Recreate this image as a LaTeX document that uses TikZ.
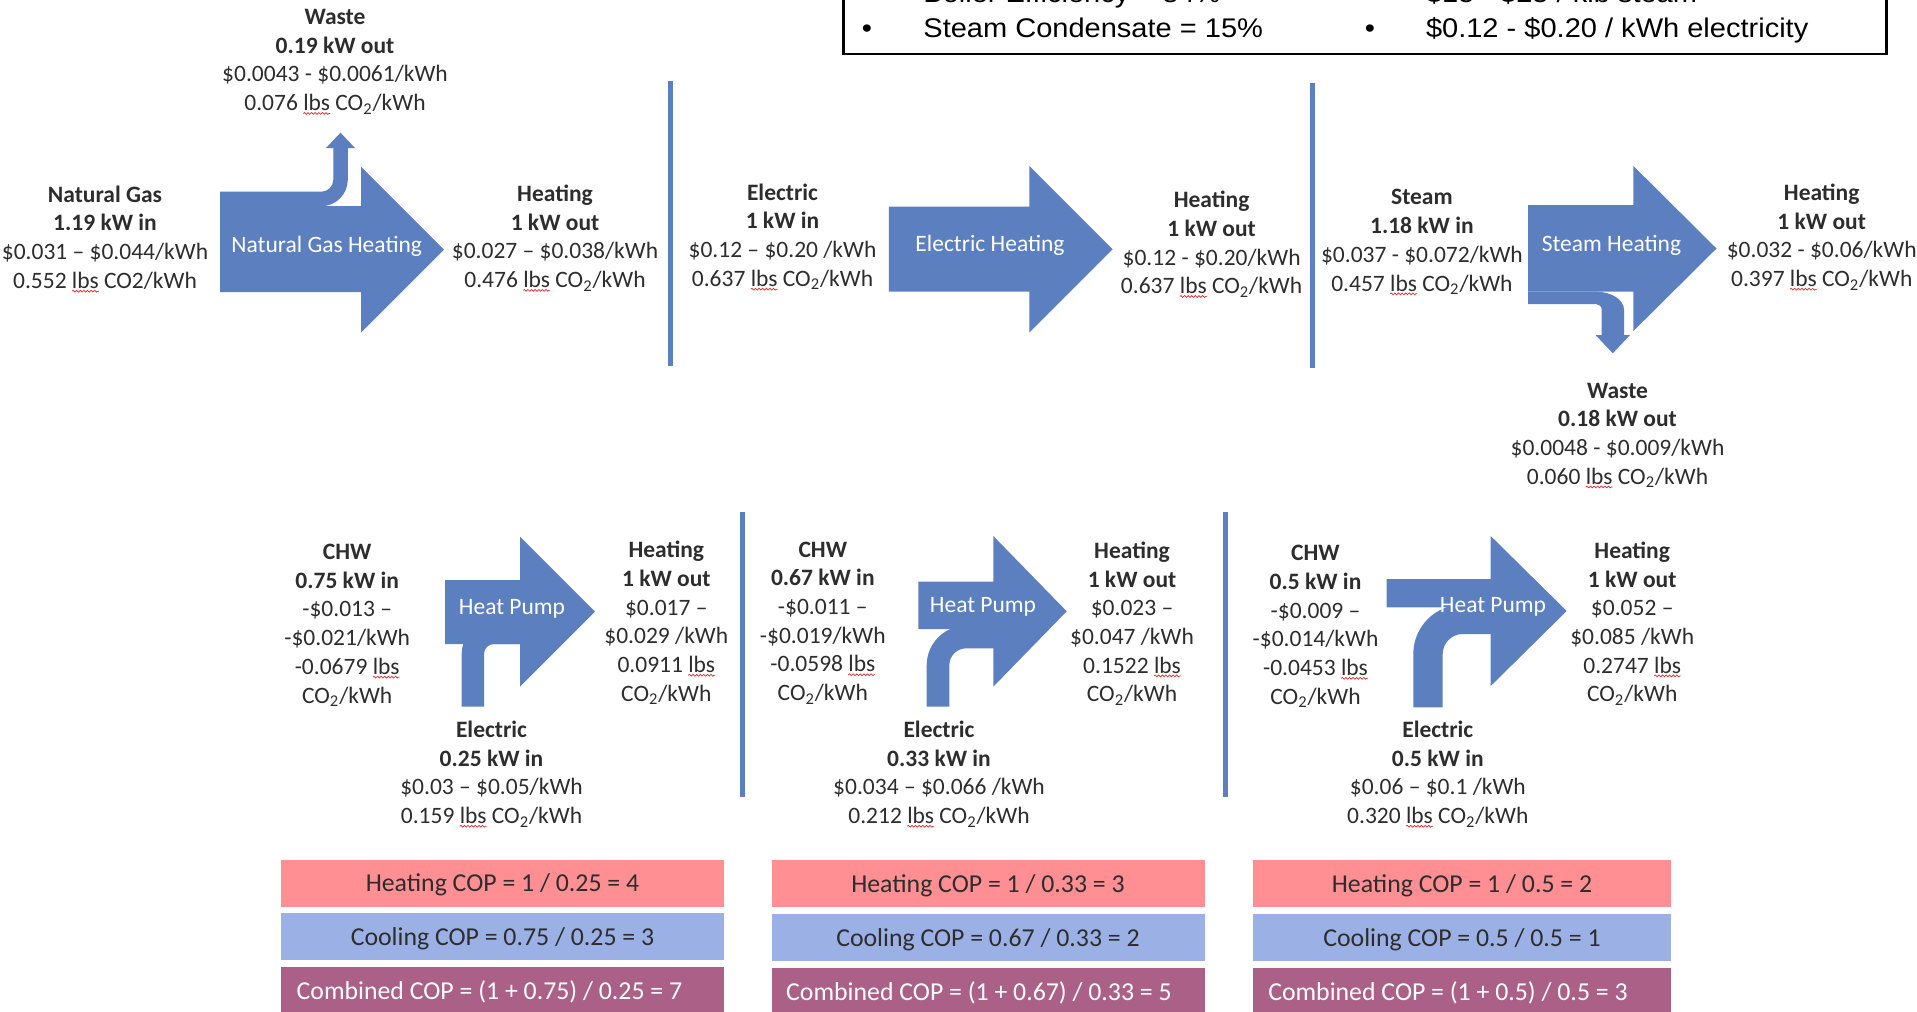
\documentclass[tikz,border=0pt]{standalone}
\usepackage{fontspec}
\setmainfont{Carlito}
\newfontfamily\arialf{Liberation Sans}
\usepackage{graphicx}
\usetikzlibrary{decorations.pathmorphing}
\definecolor{arrowblue}{RGB}{91,127,191}
\definecolor{txt}{RGB}{45,45,45}
\definecolor{coppink}{RGB}{255,143,146}
\definecolor{copblue}{RGB}{155,176,228}
\definecolor{coppurple}{RGB}{171,96,135}
\definecolor{squig}{RGB}{225,40,40}
\newcommand\lbs{\tikz[baseline=(lbsw.base)]{\node[inner sep=0pt,outer sep=0pt,anchor=base](lbsw){lbs};\draw[overlay,squig,line width=0.35pt,decorate,decoration={snake,amplitude=0.45pt,segment length=1.8pt}]([yshift=-1.3pt]lbsw.south west)--([yshift=-1.3pt]lbsw.south east);}}
\newcommand\cotwo{CO\textsubscript{2}}
\begin{document}
\begin{tikzpicture}[x=0.5pt,y=-0.5pt,
  info/.style={align=center,inner sep=0pt,text=txt,font=\fontsize{11.75}{14.35}\selectfont},
  flow/.style={fill=arrowblue,draw=none},
  lbl/.style={text=white,inner sep=0pt,font=\fontsize{11.75}{14.35}\selectfont},
  sepline/.style={draw=arrowblue,line width=2.5pt},
  copbox/.style={inner sep=0pt,minimum height=23.5pt},
  coptext/.style={inner sep=0pt,font=\fontsize{12.9}{14}\selectfont},
  topt/.style={anchor=base west,inner sep=0pt,text=black,font=\arialf\fontsize{13.5}{15}\selectfont},
  bul/.style={anchor=base,inner sep=0pt,text=black,font=\arialf\fontsize{13.5}{15}\selectfont}]
\path[use as bounding box] (0,0) rectangle (1917,1012);
\clip (0,0) rectangle (1917,1012);

% ---------- top info box ----------
\draw[line width=1.2pt] (843.6,-20) rectangle (1886.5,54);
\node[bul] (tb1) at (867,3) {\scalebox{1.075}[1]{•}};
\node[topt] (tt1) at (923,3) {\scalebox{1.075}[1]{Boiler Efficiency = 84\%}};
\node[bul] (tb2) at (1370,3) {\scalebox{1.075}[1]{•}};
\node[topt] (tt2) at (1425.6,3) {\scalebox{1.075}[1]{\$15 - \$25 / klb steam}};
\node[bul] (tb3) at (867,37) {\scalebox{1.075}[1]{•}};
\node[topt] (tt3) at (923,37) {\scalebox{1.075}[1]{Steam Condensate = 15\%}};
\node[bul] (tb4) at (1370,37) {\scalebox{1.075}[1]{•}};
\node[topt] (tt4) at (1425.6,37) {\scalebox{1.075}[1]{\$0.12 - \$0.20 / kWh electricity}};

% ---------- separators ----------
\draw[sepline] (670,80.7) -- (670,365.6);
\draw[sepline] (1312,83) -- (1312,368);
\draw[sepline] (742,512) -- (742,797);
\draw[sepline] (1225,512) -- (1225,797);

% ---------- natural gas arrow ----------
\fill[flow] (220,206.2) -- (361,206.2) -- (361,166.7) -- (444,249.6) -- (361,332.5) -- (361,292) -- (220,292) -- cycle;
\fill[flow] (220,191.7) -- (321.3,191.7) .. controls (327.9,191.7) and (333.3,186.3) .. (333.3,179.7)
  -- (333.3,148) -- (326,148) -- (340.5,132.7) -- (355,148) -- (347.8,148) -- (347.8,179.7)
  .. controls (347.8,194.3) and (335.9,206.2) .. (321.3,206.2) -- (220,206.2) -- cycle;
\node[lbl] (ngl) at (326.7,246.7) {Natural Gas Heating};

% ---------- electric arrow ----------
\fill[flow] (888.8,206.6) -- (1029.4,206.6) -- (1029.4,166) -- (1112.6,249.3) -- (1029.4,332.5) -- (1029.4,291.5) -- (888.8,291.5) -- cycle;
\node[lbl] (ell) at (990,245.7) {Electric Heating};

% ---------- steam arrow ----------
\fill[flow] (1528.2,205) -- (1633.4,205) -- (1633.4,166) -- (1716.5,248.5) -- (1633.4,331) -- (1633.4,291.7) -- (1528.2,291.7) -- cycle;
\fill[flow] (1528.2,291.7) -- (1596,291.7) .. controls (1611.5,291.7) and (1624,299.8) .. (1624,309.7)
  -- (1624,335) -- (1630,335) -- (1612.8,353.3) -- (1595.5,335) -- (1601.7,335) -- (1601.7,309.7)
  .. controls (1601.7,306.5) and (1599,304) .. (1596,304) -- (1528.2,304) -- cycle;
\node[lbl] (stl) at (1611.4,245.7) {Steam Heating};

% ---------- heat pump 1 ----------
\fill[flow] (445,580) -- (520,580) -- (520,536.7) -- (595,611.7) -- (520,686.7) -- (520,644) -- (445,644) -- cycle;
\fill[flow] (461.7,706.7) -- (461.7,654) .. controls (461.7,636.2) and (476.2,621.7) .. (494,621.7)
  -- (525,621.7) -- (525,644) -- (494,644) .. controls (488.5,644) and (484,648.5) .. (484,654) -- (484,706.7) -- cycle;
\node[lbl] (hp1) at (512,609) {Heat Pump};

% ---------- heat pump 2 ----------
\fill[flow] (918.3,581.7) -- (993.3,581.7) -- (993.3,536) -- (1066.7,611.3) -- (993.3,686.7) -- (993.3,629) -- (918.3,629) -- cycle;
\fill[flow] (926.7,706.7) -- (926.7,665.3) .. controls (926.7,643.4) and (944.4,625.7) .. (966.3,625.7)
  -- (998,625.7) -- (998,648.3) -- (966.3,648.3) .. controls (956.9,648.3) and (949.3,655.9) .. (949.3,665.3) -- (949.3,706.7) -- cycle;
\node[lbl] (hp2) at (983,606.6) {Heat Pump};

% ---------- heat pump 3 ----------
\fill[flow] (1386.7,579) -- (1490.7,579) -- (1490.7,536) -- (1566.7,611) -- (1490.7,686) -- (1490.7,607.3) -- (1386.7,607.3) -- cycle;
\fill[flow] (1413.3,707.3) -- (1413.3,654) .. controls (1413.3,626.7) and (1435.4,604.6) .. (1462.7,604.6)
  -- (1496,604.6) -- (1496,634) -- (1462.7,634) .. controls (1451.7,634) and (1442.7,643) .. (1442.7,654) -- (1442.7,707.3) -- cycle;
\node[lbl] (hp3) at (1493,606.7) {Heat Pump};

% ---------- top row texts ----------
\node[info] (wasteng) at (335,61.8) {\textbf{Waste}\\\textbf{0.19 kW out}\\\$0.0043 - \$0.0061/kWh\\0.076 \lbs{} \cotwo/kWh};
\node[info] (ng) at (105,237.6) {\textbf{Natural Gas}\\\textbf{1.19 kW in}\\\$0.031 – \$0.044/kWh\\0.552 \lbs{} CO2/kWh};
\node[info] (heatng) at (555,238.1) {\textbf{Heating}\\\textbf{1 kW out}\\\$0.027 – \$0.038/kWh\\0.476 \lbs{} \cotwo/kWh};
\node[info] (elec) at (782.5,236.9) {\textbf{Electric}\\\textbf{1 kW in}\\\$0.12 – \$0.20 /kWh\\0.637 \lbs{} \cotwo/kWh};
\node[info] (heate) at (1211.6,244.2) {\textbf{Heating}\\\textbf{1 kW out}\\\$0.12 - \$0.20/kWh\\0.637 \lbs{} \cotwo/kWh};
\node[info] (steam) at (1421.9,242.1) {\textbf{Steam}\\\textbf{1.18 kW in}\\\$0.037 - \$0.072/kWh\\0.457 \lbs{} \cotwo/kWh};
\node[info] (heats) at (1821.7,236.9) {\textbf{Heating}\\\textbf{1 kW out}\\\$0.032 - \$0.06/kWh\\0.397 \lbs{} \cotwo/kWh};
\node[info] (wastes) at (1617.5,435.3) {\textbf{Waste}\\\textbf{0.18 kW out}\\\$0.0048 - \$0.009/kWh\\0.060 \lbs{} \cotwo/kWh};

% ---------- bottom row texts ----------
\node[info] (chw1) at (347.2,625.4) {\textbf{CHW}\\\textbf{0.75 kW in}\\-\$0.013 –\\-\$0.021/kWh\\-0.0679 \lbs\\\cotwo/kWh};
\node[info] (heat1) at (666.3,623) {\textbf{Heating}\\\textbf{1 kW out}\\\$0.017 –\\\$0.029 /kWh\\0.0911 \lbs\\\cotwo/kWh};
\node[info] (elec1) at (491.5,774) {\textbf{Electric}\\\textbf{0.25 kW in}\\\$0.03 – \$0.05/kWh\\0.159 \lbs{} \cotwo/kWh};
\node[info] (chw2) at (822.8,623) {\textbf{CHW}\\\textbf{0.67 kW in}\\-\$0.011 –\\-\$0.019/kWh\\-0.0598 \lbs\\\cotwo/kWh};
\node[info] (heat2) at (1132,623.6) {\textbf{Heating}\\\textbf{1 kW out}\\\$0.023 –\\\$0.047 /kWh\\0.1522 \lbs\\\cotwo/kWh};
\node[info] (elec2) at (939,774) {\textbf{Electric}\\\textbf{0.33 kW in}\\\$0.034 – \$0.066 /kWh\\0.212 \lbs{} \cotwo/kWh};
\node[info] (chw3) at (1315.5,626.6) {\textbf{CHW}\\\textbf{0.5 kW in}\\-\$0.009 –\\-\$0.014/kWh\\-0.0453 \lbs\\\cotwo/kWh};
\node[info] (heat3) at (1632.2,623.6) {\textbf{Heating}\\\textbf{1 kW out}\\\$0.052 –\\\$0.085 /kWh\\0.2747 \lbs\\\cotwo/kWh};
\node[info] (elec3) at (1437.8,774) {\textbf{Electric}\\\textbf{0.5 kW in}\\\$0.06 – \$0.1 /kWh\\0.320 \lbs{} \cotwo/kWh};

% ---------- COP boxes ----------
\node[copbox,fill=coppink,minimum width=221.5pt] (h1) at (502.5,883) {};
\node[copbox,fill=copblue,minimum width=221.5pt] (c1) at (502.5,936.75) {};
\node[copbox,fill=coppurple,minimum width=221.5pt] (m1) at (502.5,990.75) {};
\node[copbox,fill=coppink,minimum width=216.5pt] (h2) at (988,883.5) {};
\node[copbox,fill=copblue,minimum width=216.5pt] (c2) at (988,937.5) {};
\node[copbox,fill=coppurple,minimum width=216.5pt] (m2) at (988,991.5) {};
\node[copbox,fill=coppink,minimum width=209pt] (h3) at (1462,883.5) {};
\node[copbox,fill=copblue,minimum width=209pt] (c3) at (1462,937.5) {};
\node[copbox,fill=coppurple,minimum width=209pt] (m3) at (1462,991.5) {};
\node[coptext,text=txt] (h1t) at ([yshift=-1pt]h1.center) {Heating COP = 1 / 0.25 = 4};
\node[coptext,text=txt] (c1t) at ([yshift=-1pt]c1.center) {Cooling COP = 0.75 / 0.25 = 3};
\node[coptext,text=white] (m1t) at ([xshift=-6.5pt,yshift=-0.5pt]m1.center) {Combined COP = (1 + 0.75) / 0.25 = 7};
\node[coptext,text=txt] (h2t) at ([yshift=-1pt]h2.center) {Heating COP = 1 / 0.33 = 3};
\node[coptext,text=txt] (c2t) at ([yshift=-1pt]c2.center) {Cooling COP = 0.67 / 0.33 = 2};
\node[coptext,text=white] (m2t) at ([xshift=-4.5pt,yshift=-0.5pt]m2.center) {Combined COP = (1 + 0.67) / 0.33 = 5};
\node[coptext,text=txt] (h3t) at ([yshift=-1pt]h3.center) {Heating COP = 1 / 0.5 = 2};
\node[coptext,text=txt] (c3t) at ([yshift=-1pt]c3.center) {Cooling COP = 0.5 / 0.5 = 1};
\node[coptext,text=white] (m3t) at ([xshift=-7pt,yshift=-0.5pt]m3.center) {Combined COP = (1 + 0.5) / 0.5 = 3};
\end{tikzpicture}
\end{document}
